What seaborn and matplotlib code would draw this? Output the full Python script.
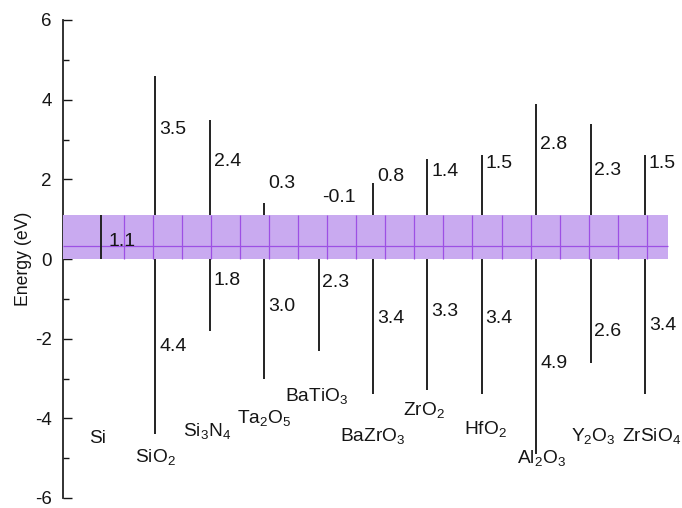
import numpy as np
import pandas as pd
import matplotlib
matplotlib.use("Agg")
import matplotlib.pyplot as plt
import seaborn as sns

# Band offsets of gate dielectrics relative to silicon (eV)
materials = ["SiO$_{\\mathrm{2}}$", "Si$_{\\mathrm{3}}$N$_{\\mathrm{4}}$", "Ta$_{\\mathrm{2}}$O$_{\\mathrm{5}}$",
             "BaTiO$_{\\mathrm{3}}$", "BaZrO$_{\\mathrm{3}}$", "ZrO$_{\\mathrm{2}}$", "HfO$_{\\mathrm{2}}$",
             "Al$_{\\mathrm{2}}$O$_{\\mathrm{3}}$", "Y$_{\\mathrm{2}}$O$_{\\mathrm{3}}$", "ZrSiO$_{\\mathrm{4}}$"]
cb_offset = [3.5, 2.4, 0.3, -0.1, 0.8, 1.4, 1.5, 2.8, 2.3, 1.5]
vb_offset = [4.4, 1.8, 3.0, 2.3, 3.4, 3.3, 3.4, 4.9, 2.6, 3.4]
si_gap = 1.1
y_ticks = [-6, -4, -2, 0, 2, 4, 6]

# Label placement (layout only)
cb_label_y = [3.25, 2.45, 1.9, 1.55, 2.08, 2.2, 2.4, 2.88, 2.23, 2.4]
vb_label_y = [-2.2, -0.55, -1.18, -0.6, -1.5, -1.33, -1.5, -2.63, -1.83, -1.67]
name_y = [-4.98, -4.33, -3.98, -3.45, -4.45, -3.8, -4.28, -5.0, -4.45, -4.45]
name_dx = [0.0, -0.05, 0.0, -0.04, 0.0, -0.07, 0.07, 0.09, 0.05, 0.12]

sns.set_style("ticks")
plt.rcParams["font.family"] = ["Liberation Sans", "DejaVu Sans"]
plt.rcParams["mathtext.fontset"] = "custom"
plt.rcParams["mathtext.rm"] = "Liberation Sans"
plt.rcParams["mathtext.it"] = "Liberation Sans:italic"
plt.rcParams["mathtext.bf"] = "Liberation Sans:bold"
plt.rcParams["axes.unicode_minus"] = False

TXT = "#151515"
VAL_FS = 14
NAME_FS = 13.8

df = pd.DataFrame({
    "material": materials,
    "pos": np.arange(1, len(materials) + 1),
    "cbo": cb_offset,
    "vbo": vb_offset,
})
df["top"] = si_gap + df["cbo"]
df["bottom"] = -df["vbo"]

fig = plt.figure(figsize=(6.82, 5.08), dpi=100)
ax = fig.add_axes([63 / 682, 10 / 508, 1 - 63 / 682, 478 / 508])

# Dielectric band extents (the Si gap strip is laid over them)
sns.despine(ax=ax, top=True, right=True, bottom=True)
ax.vlines(df["pos"], df["bottom"], df["top"], color="#222222", lw=1.4, zorder=2)

# Silicon band gap strip with its light grid
band_left, band_right = -0.7, 10.42
ax.fill_between([band_left, band_right], 0, si_gap, color="#c9aaf0", lw=0, zorder=4)
grid_x = np.arange(0.42, band_right, 0.534)
ax.vlines(grid_x, 0, si_gap, color="#9d50e4", lw=0.9, zorder=5)
ax.hlines(0.33, band_left, band_right, color="#9d50e4", lw=0.9, zorder=5)

# Silicon itself
ax.vlines(0, 0, si_gap, color="#222222", lw=1.4, zorder=6)
ax.text(0.13, 0.45, f"{si_gap:.1f}", fontsize=VAL_FS, ha="left", va="center", color=TXT, zorder=7)
ax.text(-0.07, -4.5, "Si", fontsize=NAME_FS, ha="center", va="center", color=TXT)

for i, row in df.iterrows():
    ax.text(row["pos"] + 0.07, cb_label_y[i], f"{row['cbo']:.1f}", fontsize=VAL_FS,
            ha="left", va="center", color=TXT)
    ax.text(row["pos"] + 0.07, vb_label_y[i], f"{row['vbo']:.1f}", fontsize=VAL_FS,
            ha="left", va="center", color=TXT)
    ax.text(row["pos"] + name_dx[i], name_y[i], row["material"], fontsize=NAME_FS,
            ha="center", va="center", color=TXT)

ax.set_xlim(-0.7, 10.68)
ax.set_ylim(-6, 6)
ax.set_yticks(y_ticks)
ax.set_yticklabels([str(t) for t in y_ticks])
ax.set_yticks(np.arange(-5, 6, 2), minor=True)
ax.set_xticks([])
ax.tick_params(axis="y", which="major", direction="in", length=6.5, width=1.0,
               labelsize=13.5, pad=8, colors=TXT)
ax.tick_params(axis="y", which="minor", direction="in", length=4.3, width=1.0, colors=TXT)
ax.spines["left"].set_linewidth(1.3)
ax.spines["left"].set_color("#222222")
ax.set_ylabel("Energy (eV)", fontsize=12.7, labelpad=2, color=TXT)
ax.patch.set_alpha(0)

fig.savefig("out.png", dpi=100)
